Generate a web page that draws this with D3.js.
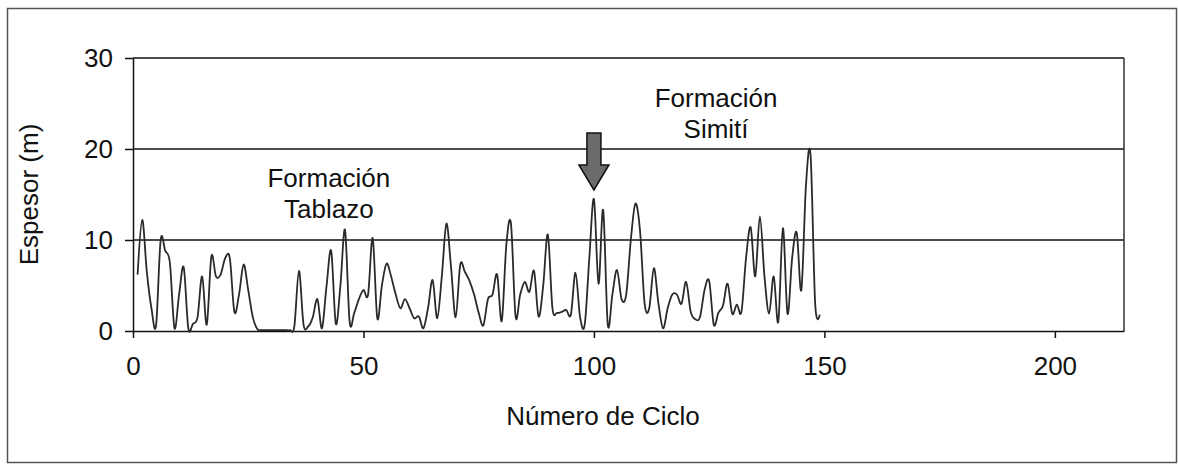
<!DOCTYPE html>
<html>
<head>
<meta charset="utf-8">
<script src="https://cdn.jsdelivr.net/npm/d3@7"></script>
<style>
  body { margin: 0; background: #fff; }
  svg { display: block; font-family: "Liberation Sans", Arial, sans-serif; }
</style>
</head>
<body>
<div id="chart"></div>
<script>
// espesor (m) por número de ciclo, ciclos 1..149
const espesor = [
  6.2, 12.2, 6.5, 2.5, 0.6, 10.0, 8.8, 7.5, 0.3, 4.0,
  7.0, 0.3, 0.8, 1.5, 6.0, 0.7, 8.2, 6.0, 6.2, 8.0,
  8.0, 2.1, 4.0, 7.3, 4.5, 1.5, 0.2, 0.1, 0.1, 0.1,
  0.1, 0.1, 0.1, 0.1, 0.5, 6.6, 0.7, 0.5, 1.5, 3.5,
  0.3, 5.0, 8.8, 0.8, 5.0, 11.1, 1.0, 2.0, 3.5, 4.5,
  4.0, 10.2, 1.4, 5.0, 7.4, 6.0, 4.0, 2.5, 3.5, 2.5,
  1.4, 1.6, 0.3, 2.5, 5.6, 1.4, 6.0, 11.8, 7.0, 1.5,
  7.3, 6.5, 5.5, 4.0, 2.0, 0.6, 3.5, 4.0, 6.2, 1.1,
  9.5, 11.8, 1.6, 4.0, 5.4, 4.3, 6.6, 1.6, 5.0, 10.6,
  2.5, 2.0, 2.1, 2.3, 1.8, 6.4, 1.5, 0.7, 8.0, 14.5,
  5.2, 13.3, 0.7, 4.0, 6.7, 3.5, 4.0, 10.0, 14.0, 11.0,
  3.0, 2.5, 6.9, 3.0, 0.3, 2.5, 4.0, 4.0, 3.0, 5.4,
  2.1, 1.3, 1.5, 4.5, 5.5, 0.7, 2.0, 2.8, 5.2, 1.9,
  2.9, 2.1, 8.0, 11.4, 6.0, 12.6, 6.0, 1.9, 6.0, 1.0,
  11.3, 1.9, 8.0, 10.8, 4.5, 16.0, 19.3, 3.0, 1.8
];
const ciclos = espesor.map((d, i) => i + 1);

const xTicks = [0, 50, 100, 150, 200];
const yTicks = [0, 10, 20, 30];
const gridLines = [10, 20, 30];

const labels = [
  { lines: ["Formación", "Tablazo"], x: 42.5, y: 15.8 },
  { lines: ["Formación", "Simití"], x: 126.5, y: 24.6 }
];
const arrowAt = 100;

const width = 1178, height = 465;
const margin = { top: 58, right: 54, bottom: 134, left: 133 };
const fontSize = 26;

const svg = d3.select("#chart").append("svg")
  .attr("width", width)
  .attr("height", height);

// marco exterior
svg.append("rect")
  .attr("x", 7.5).attr("y", 8.5)
  .attr("width", 1169).attr("height", 454)
  .attr("fill", "none")
  .attr("stroke", "#555")
  .attr("stroke-width", 1.5);

const x = d3.scaleLinear()
  .domain([0, 215])
  .range([margin.left, width - margin.right]);

const y = d3.scaleLinear()
  .domain([0, 30])
  .range([height - margin.bottom, margin.top]);

// líneas de cuadrícula
svg.append("g")
  .selectAll("line")
  .data(gridLines)
  .join("line")
  .attr("x1", x(0)).attr("x2", x(215))
  .attr("y1", d => y(d)).attr("y2", d => y(d))
  .attr("stroke", "#111")
  .attr("stroke-width", 1.5);

// borde derecho del área de trazado
svg.append("line")
  .attr("x1", x(215)).attr("x2", x(215))
  .attr("y1", y(30)).attr("y2", y(0))
  .attr("stroke", "#333")
  .attr("stroke-width", 1.5);

const xAxis = svg.append("g")
  .attr("transform", `translate(0,${y(0)})`)
  .call(d3.axisBottom(x).tickValues(xTicks).tickSize(7).tickPadding(19).tickSizeOuter(0));

const yAxis = svg.append("g")
  .attr("transform", `translate(${x(0)},0)`)
  .call(d3.axisLeft(y).tickValues(yTicks).tickSize(8).tickPadding(12).tickSizeOuter(0));

[xAxis, yAxis].forEach(g => {
  g.select(".domain").attr("stroke", "#111").attr("stroke-width", 1.5);
  g.selectAll(".tick line").attr("stroke", "#111").attr("stroke-width", 1.5);
  g.selectAll(".tick text")
    .attr("fill", "#111")
    .style("font-size", fontSize + "px")
    .style("font-family", "'Liberation Sans', Arial, sans-serif");
});

// serie
const line = d3.line()
  .x((d, i) => x(ciclos[i]))
  .y(d => y(d))
  .curve(d3.curveCatmullRom.alpha(0));

svg.append("path")
  .datum(espesor)
  .attr("fill", "none")
  .attr("stroke", "#2a2a2a")
  .attr("stroke-width", 1.8)
  .attr("stroke-linejoin", "round")
  .attr("d", line);

// títulos de ejes
svg.append("text")
  .attr("x", 603)
  .attr("y", 425)
  .attr("text-anchor", "middle")
  .attr("fill", "#111")
  .style("font-size", fontSize + "px")
  .text("Número de Ciclo");

svg.append("text")
  .attr("transform", `translate(38,${(y(0) + y(30)) / 2}) rotate(-90)`)
  .attr("text-anchor", "middle")
  .attr("fill", "#111")
  .style("font-size", fontSize + "px")
  .text("Espesor (m)");

// anotaciones
labels.forEach(l => {
  const t = svg.append("text")
    .attr("text-anchor", "middle")
    .attr("fill", "#111")
    .style("font-size", fontSize + "px");
  l.lines.forEach((s, i) => {
    t.append("tspan")
      .attr("x", x(l.x))
      .attr("y", y(l.y) + i * 31)
      .text(s);
  });
});

// flecha
const ax = x(arrowAt);
const arrowTop = 133, shaftEnd = 165, arrowTip = 190;
svg.append("path")
  .attr("d", `M${ax - 7},${arrowTop} L${ax + 7},${arrowTop} L${ax + 7},${shaftEnd} L${ax + 15},${shaftEnd} L${ax},${arrowTip} L${ax - 15},${shaftEnd} L${ax - 7},${shaftEnd} Z`)
  .attr("fill", "#6b6b6b")
  .attr("stroke", "#111")
  .attr("stroke-width", 1.5)
  .attr("stroke-linejoin", "miter");
</script>
</body>
</html>
